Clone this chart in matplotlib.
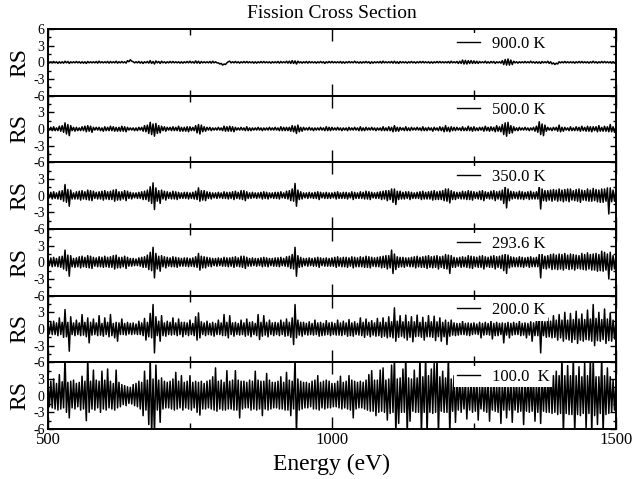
import numpy as np
import matplotlib.pyplot as plt

plt.rcParams['font.family'] = ['Liberation Serif', 'DejaVu Serif']

temps = ['900.0 K', '500.0 K', '350.0 K', '293.6 K', '200.0 K', '100.0  K']

# relative residuals (RS), one value every 2.5 eV from 500 to 1500 eV
rs_900 = [
    0.2, -0.1, 0.1, -0.1, 0.15, -0.1, 0.1, -0.2, 0.1, -0.15, 0.1, -0.15, 0.2, -0.1, 0.15, -0.2, 0.1, -0.1, 0.1, -0.1,
    0.15, -0.1, 0.1, -0.15, 0.1, -0.15, 0.1, -0.2, 0.15, -0.1, 0.1, -0.1, 0.1, -0.1, 0.15, -0.15, 0.2, -0.1, 0.1, -0.1,
    0.1, -0.1, 0.15, -0.15, 0.15, -0.1, 0.1, -0.1, 0.2, -0.15, 0.1, -0.1, 0.15, -0.1, 0.1, -0.15, 0.3, 0.1, 0.45, 0.2,
    0.1, -0.1, 0.1, -0.1, 0.15, -0.15, 0.1, -0.2, 0.1, -0.1, 0.15, -0.15, 0.3, -0.2, 0.15, -0.3, 0.25, -0.1, 0.15, -0.2,
    0.2, -0.1, 0.1, -0.15, 0.1, -0.1, 0.15, -0.1, 0.15, -0.1, 0.1, -0.1, 0.1, -0.15, 0.1, -0.15, 0.1, -0.1, 0.15, -0.1,
    0.2, -0.1, 0.1, -0.15, 0.25, -0.15, 0.2, -0.2, 0.15, -0.1, 0.1, -0.1, 0.1, -0.1, 0.15, -0.15, 0.2, -0.1, 0.1, -0.1,
    -0.1, -0.3, -0.2, -0.5, -0.3, -0.4, -0.1, 0.1, 0.2, -0.1, 0.1, -0.1, 0.15, -0.1, 0.1, -0.15, 0.1, -0.1, 0.15, -0.1,
    0.15, -0.1, 0.1, -0.1, 0.1, -0.15, 0.1, -0.15, 0.1, -0.1, 0.15, -0.1, 0.15, -0.1, 0.1, -0.1, 0.1, -0.15, 0.1, -0.1,
    0.1, -0.1, 0.15, -0.15, 0.15, -0.1, 0.1, -0.1, 0.2, -0.15, 0.2, -0.2, 0.3, -0.2, 0.25, -0.3, 0.2, -0.1, 0.1, -0.15,
    0.1, -0.1, 0.15, -0.15, 0.15, -0.1, 0.1, -0.1, 0.1, -0.15, 0.1, -0.1, 0.15, -0.1, 0.1, -0.2, 0.1, -0.1, 0.15, -0.1,
    0.15, -0.1, 0.1, -0.1, 0.1, -0.1, 0.15, -0.15, 0.1, -0.15, 0.1, -0.1, 0.15, -0.1, 0.1, -0.1, 0.2, -0.1, 0.1, -0.15,
    0.1, -0.15, 0.1, -0.1, 0.15, -0.1, 0.1, -0.2, 0.1, -0.15, 0.1, -0.1, 0.1, -0.1, 0.15, -0.15, 0.2, -0.1, 0.1, -0.1,
    0.1, -0.1, 0.15, -0.15, 0.2, -0.15, 0.1, -0.2, 0.15, -0.1, 0.1, -0.1, 0.1, -0.15, 0.1, -0.1, 0.15, -0.1, 0.1, -0.15,
    0.1, -0.1, 0.15, -0.1, 0.15, -0.1, 0.1, -0.1, 0.1, -0.15, 0.1, -0.15, 0.1, -0.1, 0.15, -0.1, 0.15, -0.1, 0.1, -0.1,
    0.1, -0.1, 0.15, -0.15, 0.2, -0.1, 0.1, -0.1, 0.15, -0.2, 0.2, -0.2, 0.4, -0.3, 0.35, -0.3, 0.3, -0.2, 0.3, -0.2,
    0.25, -0.2, 0.2, -0.2, 0.15, -0.1, 0.1, -0.1, 0.2, -0.15, 0.1, -0.15, 0.15, -0.1, 0.15, -0.2, 0.1, -0.1, 0.1, -0.15,
    0.3, -0.4, 0.5, -0.5, 0.6, -0.5, 0.4, -0.4, 0.2, -0.1, 0.1, -0.15, 0.1, -0.1, 0.1, -0.1, 0.15, -0.1, 0.1, -0.1,
    0.2, -0.1, 0.1, -0.15, 0.1, -0.15, 0.1, -0.2, 0.15, -0.1, 0.1, -0.1, 0.2, -0.2, 0.1, -0.3, -0.1, -0.4, -0.15, -0.3,
    0.1, -0.1, 0.1, -0.1, 0.15, -0.1, 0.1, -0.1, 0.1, -0.1, 0.1, -0.15, 0.1, -0.1, 0.15, -0.1, 0.15, -0.1, 0.1, -0.1,
    0.1, -0.15, 0.1, -0.1, 0.2, -0.1, 0.1, -0.15, 0.1, -0.1, 0.15, -0.1, 0.15, -0.1, 0.1, -0.1, 0.1, -0.15, 0.1, -0.15,
    0.1,
]
rs_500 = [
    0.3, -0.2, 0.3, -0.3, 0.4, -0.3, 0.2, -0.3, 0.5, -0.4, 0.6, -0.6, 1.1, -0.9, 0.8, -1.2, 0.6, -0.3, 0.3, -0.4,
    0.3, -0.3, 0.2, -0.3, 0.4, -0.3, 0.5, -0.5, 0.6, -0.4, 0.5, -0.6, 0.3, -0.2, 0.3, -0.2, 0.3, -0.3, 0.2, -0.4,
    0.4, -0.3, 0.3, -0.3, 0.5, -0.3, 0.4, -0.4, 0.3, -0.4, 0.3, -0.4, 0.5, -0.4, 0.4, -0.5, 0.3, -0.2, 0.2, -0.2,
    0.2, -0.3, 0.2, -0.3, 0.3, -0.2, 0.3, -0.4, 0.6, -0.5, 0.7, -0.8, 1.2, -1.0, 0.9, -1.3, 1.0, -0.8, 0.6, -0.7,
    0.5, -0.3, 0.4, -0.4, 0.3, -0.2, 0.3, -0.3, 0.4, -0.3, 0.3, -0.3, 0.5, -0.4, 0.3, -0.4, 0.3, -0.4, 0.4, -0.5,
    0.4, -0.3, 0.3, -0.3, 0.6, -0.7, 0.8, -0.9, 0.7, -0.5, 0.4, -0.4, 0.3, -0.2, 0.3, -0.3, 0.2, -0.2, 0.2, -0.2,
    0.3, -0.2, 0.2, -0.3, 0.5, -0.4, 0.4, -0.4, 0.5, -0.4, 0.4, -0.5, 0.3, -0.2, 0.2, -0.2, 0.3, -0.2, 0.2, -0.3,
    0.4, -0.3, 0.2, -0.3, 0.2, -0.2, 0.2, -0.2, 0.3, -0.2, 0.2, -0.3, 0.2, -0.2, 0.2, -0.2, 0.3, -0.2, 0.2, -0.2,
    0.3, -0.2, 0.2, -0.3, 0.4, -0.3, 0.3, -0.3, 0.3, -0.3, 0.3, -0.4, 0.6, -0.5, 0.5, -0.8, 0.7, -0.5, 0.3, -0.4,
    0.3, -0.2, 0.2, -0.2, 0.3, -0.2, 0.2, -0.3, 0.2, -0.2, 0.2, -0.2, 0.3, -0.2, 0.2, -0.3, 0.4, -0.3, 0.3, -0.3,
    0.3, -0.2, 0.2, -0.2, 0.3, -0.2, 0.2, -0.3, 0.2, -0.2, 0.2, -0.3, 0.3, -0.2, 0.2, -0.2, 0.3, -0.2, 0.2, -0.3,
    0.4, -0.3, 0.2, -0.3, 0.3, -0.2, 0.2, -0.2, 0.3, -0.2, 0.2, -0.3, 0.2, -0.2, 0.2, -0.3, 0.4, -0.3, 0.2, -0.3,
    0.4, -0.3, 0.3, -0.5, 0.6, -0.4, 0.3, -0.4, 0.3, -0.2, 0.2, -0.3, 0.4, -0.3, 0.2, -0.3, 0.3, -0.2, 0.2, -0.2,
    0.3, -0.2, 0.2, -0.3, 0.4, -0.3, 0.2, -0.3, 0.3, -0.2, 0.2, -0.4, 0.3, -0.2, 0.2, -0.3, 0.4, -0.3, 0.3, -0.5,
    0.6, -0.4, 0.3, -0.5, 0.4, -0.3, 0.3, -0.3, 0.3, -0.2, 0.2, -0.3, 0.4, -0.3, 0.2, -0.3, 0.5, -0.3, 0.3, -0.4,
    0.4, -0.3, 0.2, -0.3, 0.3, -0.2, 0.3, -0.4, 0.5, -0.3, 0.3, -0.4, 0.4, -0.3, 0.3, -0.5, 0.6, -0.4, 0.4, -0.5,
    0.8, -1.0, 1.1, -1.3, 1.2, -0.8, 0.6, -0.7, 0.4, -0.3, 0.2, -0.3, 0.3, -0.2, 0.2, -0.2, 0.3, -0.2, 0.2, -0.3,
    0.2, -0.2, 0.3, -0.4, 0.5, -0.6, 1.3, -1.0, 0.9, -1.2, 0.7, -0.4, 0.3, -0.2, 0.2, -0.3, 0.3, -0.2, 0.3, -0.4,
    0.7, -0.5, 0.3, -0.4, 0.3, -0.2, 0.2, -0.3, 0.4, -0.3, 0.2, -0.3, 0.4, -0.3, 0.3, -0.4, 0.5, -0.3, 0.3, -0.4,
    0.5, -0.4, 0.4, -0.5, 0.4, -0.3, 0.4, -0.5, 0.6, -0.4, 0.3, -0.4, 0.5, -0.4, 0.4, -0.5, 0.8, -0.5, 0.4, -0.6,
    0.4,
]
rs_350 = [
    0.5, -0.4, 0.6, -0.6, 0.7, -0.5, 0.5, -0.6, 0.8, -0.7, 0.9, -1.0, 2.0, -1.2, 1.1, -1.9, 1.0, -0.6, 0.5, -0.6,
    0.7, -0.6, 0.8, -0.8, 0.9, -0.6, 0.7, -0.7, 1.0, -0.8, 0.9, -0.9, 0.8, -0.5, 0.6, -0.6, 0.7, -0.6, 0.8, -0.8,
    0.9, -0.6, 0.7, -0.7, 0.8, -0.7, 1.0, -1.0, 1.1, -0.8, 0.7, -0.8, 0.7, -0.6, 0.9, -0.9, 0.8, -0.5, 0.6, -0.6,
    0.5, -0.4, 0.5, -0.5, 0.6, -0.5, 0.7, -0.7, 0.8, -0.7, 1.0, -1.0, 1.6, -1.4, 2.3, -2.5, 1.4, -1.0, 0.9, -1.4,
    1.0, -0.6, 0.8, -0.8, 0.7, -0.5, 0.6, -0.6, 0.8, -0.6, 0.7, -0.7, 0.6, -0.5, 0.5, -0.5, 0.6, -0.5, 0.6, -0.6,
    0.5, -0.5, 0.6, -0.6, 0.8, -0.7, 1.4, -1.0, 0.9, -0.8, 0.9, -0.9, 0.7, -0.5, 0.6, -0.6, 0.5, -0.4, 0.5, -0.5,
    0.6, -0.4, 0.5, -0.5, 0.7, -0.5, 0.6, -0.6, 0.6, -0.5, 0.7, -0.7, 0.8, -0.5, 0.6, -0.6, 0.9, -0.7, 0.9, -0.9,
    0.7, -0.5, 0.5, -0.5, 0.6, -0.4, 0.5, -0.5, 0.5, -0.4, 0.6, -0.6, 0.7, -0.5, 0.6, -0.6, 0.5, -0.4, 0.5, -0.5,
    0.6, -0.5, 0.6, -0.6, 0.7, -0.4, 0.5, -0.5, 0.8, -0.6, 0.9, -0.9, 1.2, -1.0, 2.2, -1.9, 1.0, -0.7, 0.7, -0.6,
    0.5, -0.4, 0.5, -0.5, 0.6, -0.4, 0.5, -0.5, 0.6, -0.5, 0.7, -0.7, 0.6, -0.4, 0.5, -0.5, 0.6, -0.5, 0.5, -0.5,
    0.5, -0.4, 0.6, -0.6, 0.7, -0.5, 0.5, -0.5, 0.6, -0.5, 0.6, -0.6, 0.5, -0.4, 0.7, -0.7, 0.6, -0.5, 0.5, -0.5,
    0.7, -0.5, 0.6, -0.6, 0.8, -0.6, 0.7, -0.7, 0.6, -0.4, 0.5, -0.5, 0.6, -0.5, 0.7, -0.7, 0.8, -0.6, 0.9, -0.9,
    0.9, -0.7, 1.2, -1.2, 1.2, -1.6, 0.8, -0.7, 0.8, -0.6, 0.6, -0.6, 0.7, -0.5, 0.7, -0.7, 0.6, -0.5, 0.5, -0.5,
    0.6, -0.5, 0.7, -0.7, 0.8, -0.6, 0.6, -0.6, 0.7, -0.6, 0.8, -0.8, 0.9, -0.7, 0.7, -0.7, 0.8, -0.7, 0.9, -0.9,
    1.2, -1.0, 1.2, -1.3, 0.9, -0.7, 0.7, -0.7, 0.6, -0.5, 0.6, -0.6, 0.8, -0.6, 0.7, -0.7, 0.9, -0.7, 0.8, -0.8,
    0.7, -0.5, 0.6, -0.6, 0.8, -0.7, 0.9, -0.9, 0.7, -0.5, 0.6, -0.6, 0.8, -0.6, 0.9, -0.9, 0.7, -0.6, 0.8, -0.8,
    1.0, -1.4, 1.8, -2.2, 1.2, -0.9, 0.8, -0.6, 0.7, -0.5, 0.6, -0.6, 0.8, -0.6, 0.7, -0.7, 0.6, -0.5, 0.7, -0.7,
    0.8, -0.6, 0.6, -0.6, 0.7, -0.6, 1.7, -2.4, 1.2, -0.9, 0.9, -1.0, 0.9, -0.8, 1.0, -1.0, 1.1, -0.8, 1.0, -1.0,
    1.2, -0.9, 1.0, -1.1, 1.1, -0.9, 1.2, -1.1, 1.2, -0.8, 0.9, -0.9, 1.1, -1.0, 1.2, -1.2, 1.0, -0.8, 0.9, -0.9,
    1.2, -1.0, 1.0, -1.0, 1.3, -0.9, 1.1, -1.1, 1.0, -1.2, 1.2, -1.2, 1.2, -1.0, 1.4, -3.3, 1.4, -1.1, 1.0, -1.0,
    1.0,
]
rs_293 = [
    0.7, -0.6, 0.8, -0.8, 0.9, -0.7, 0.7, -0.8, 1.0, -0.9, 1.1, -1.2, 2.2, -1.5, 1.3, -2.5, 1.2, -0.8, 0.7, -0.9,
    0.8, -0.8, 1.0, -1.0, 1.1, -0.8, 0.9, -0.9, 1.2, -1.0, 1.1, -1.1, 0.9, -0.7, 0.8, -0.8, 1.0, -0.8, 0.9, -0.9,
    1.1, -0.8, 0.9, -0.9, 1.0, -0.9, 1.2, -1.2, 1.3, -1.0, 0.9, -1.0, 0.9, -0.8, 1.1, -1.1, 0.9, -0.7, 0.7, -0.7,
    0.7, -0.6, 0.6, -0.6, 0.8, -0.7, 0.9, -0.9, 1.0, -0.9, 1.3, -1.3, 1.8, -1.5, 2.7, -2.8, 1.6, -1.2, 1.1, -1.6,
    1.2, -0.8, 1.0, -1.0, 0.9, -0.7, 0.8, -0.8, 1.0, -0.8, 0.9, -0.9, 0.8, -0.7, 0.7, -0.7, 0.8, -0.7, 0.8, -0.8,
    0.7, -0.7, 0.8, -0.8, 1.0, -0.9, 1.6, -1.4, 1.1, -1.0, 1.0, -1.0, 0.9, -0.7, 0.8, -0.8, 0.7, -0.6, 0.7, -0.7,
    0.8, -0.6, 0.7, -0.7, 0.9, -0.7, 0.8, -0.8, 0.8, -0.7, 0.9, -0.9, 1.0, -0.7, 0.8, -0.8, 1.1, -0.9, 1.1, -1.1,
    0.9, -0.7, 0.7, -0.7, 0.8, -0.6, 0.7, -0.7, 0.7, -0.6, 0.8, -0.8, 0.9, -0.7, 0.8, -0.8, 0.7, -0.6, 0.7, -0.7,
    0.8, -0.7, 0.8, -0.8, 0.9, -0.6, 0.7, -0.7, 1.0, -0.8, 1.1, -1.1, 1.4, -1.2, 2.7, -2.5, 1.2, -0.9, 0.9, -0.8,
    0.7, -0.6, 0.7, -0.7, 0.8, -0.6, 0.7, -0.7, 0.8, -0.7, 0.9, -0.9, 0.8, -0.6, 0.7, -0.7, 0.8, -0.7, 0.7, -0.7,
    0.8, -0.7, 0.9, -0.9, 1.0, -0.7, 0.8, -0.8, 0.9, -0.8, 0.9, -0.9, 0.8, -0.7, 1.0, -1.0, 0.9, -0.8, 0.8, -0.8,
    1.0, -0.8, 0.9, -0.9, 1.1, -0.9, 1.0, -1.0, 0.9, -0.7, 0.8, -0.8, 0.9, -0.8, 1.0, -1.0, 1.1, -0.9, 1.2, -1.2,
    1.2, -1.0, 2.2, -2.0, 1.5, -1.3, 1.0, -0.9, 0.9, -0.8, 0.9, -0.9, 0.8, -0.7, 0.8, -0.8, 0.9, -0.8, 1.0, -1.0,
    1.1, -0.8, 0.9, -0.9, 1.0, -0.9, 1.1, -1.1, 1.2, -0.9, 1.0, -1.0, 1.1, -0.9, 1.2, -1.2, 1.0, -0.9, 1.1, -1.1,
    1.4, -1.2, 1.3, -2.0, 1.2, -0.9, 0.9, -0.9, 0.8, -0.7, 0.9, -0.9, 1.0, -0.8, 0.9, -0.9, 1.2, -1.0, 1.1, -1.1,
    1.0, -0.8, 0.9, -0.9, 1.1, -0.9, 1.2, -1.2, 1.0, -0.8, 0.9, -0.9, 1.1, -0.9, 1.2, -1.2, 1.0, -0.9, 1.1, -1.1,
    1.3, -1.5, 1.6, -2.0, 1.3, -1.0, 1.0, -0.8, 0.9, -0.8, 0.8, -0.8, 1.0, -0.8, 0.9, -0.9, 0.8, -0.7, 0.9, -0.9,
    1.0, -0.8, 0.8, -0.8, 0.9, -0.8, 1.4, -2.8, 1.5, -1.1, 1.1, -1.2, 1.2, -1.0, 1.4, -1.3, 1.5, -1.2, 1.3, -1.3,
    1.5, -1.2, 1.4, -1.4, 1.6, -1.1, 1.3, -1.3, 1.5, -1.2, 1.4, -1.4, 1.3, -1.1, 1.2, -1.2, 1.6, -1.3, 1.4, -1.4,
    1.7, -1.2, 1.4, -1.4, 1.5, -1.4, 1.6, -1.6, 1.4, -1.5, 2.0, -1.6, 1.8, -1.4, 1.5, -3.0, 1.8, -1.4, 1.2, -1.2,
    1.2,
]
rs_200 = [
    1.0, -0.9, 1.2, -1.0, 1.4, -1.0, 1.1, -1.2, 2.0, -1.0, 1.2, -1.5, 3.5, -1.4, 1.2, -4.0, 2.2, -1.0, 1.1, -1.2,
    1.6, -1.0, 1.1, -1.2, 2.6, -1.1, 1.2, -1.4, 2.0, -2.5, 1.2, -1.1, 1.8, -1.0, 1.1, -1.2, 2.4, -1.1, 1.0, -1.3,
    2.0, -1.0, 1.2, -1.4, 2.6, -1.2, 1.0, -1.6, 1.2, -2.2, 1.1, -1.0, 1.8, -1.0, 1.0, -1.1, 1.2, -0.9, 1.0, -1.0,
    1.1, -0.9, 0.9, -1.0, 1.4, -1.0, 1.1, -1.2, 1.9, -2.0, 1.2, -1.4, 2.8, -1.6, 4.4, -4.3, 2.2, -1.2, 1.4, -2.2,
    2.4, -1.2, 1.1, -1.3, 1.4, -1.0, 1.2, -1.1, 2.0, -1.0, 1.1, -1.2, 1.8, -1.0, 1.2, -1.4, 1.2, -1.0, 1.1, -1.2,
    1.6, -1.0, 1.0, -1.2, 2.2, -2.0, 2.9, -1.6, 1.3, -1.0, 1.1, -1.2, 1.4, -1.0, 1.0, -1.1, 1.2, -1.3, 1.0, -1.0,
    1.6, -1.0, 1.1, -1.2, 2.6, -1.2, 1.2, -1.6, 2.4, -1.0, 1.1, -1.3, 1.2, -1.0, 1.0, -1.1, 1.6, -1.0, 1.1, -1.3,
    1.8, -1.1, 1.2, -1.4, 1.3, -1.0, 1.0, -1.2, 2.6, -1.9, 1.2, -1.3, 2.4, -1.1, 1.2, -1.4, 1.6, -1.0, 1.1, -1.2,
    1.2, -1.0, 1.1, -1.2, 1.6, -1.0, 1.2, -1.3, 1.8, -1.2, 1.2, -1.5, 2.0, -2.8, 4.4, -1.6, 1.6, -1.1, 1.2, -1.3,
    1.2, -1.0, 1.0, -1.1, 1.3, -1.0, 1.0, -1.1, 1.6, -1.0, 1.1, -1.3, 1.2, -1.2, 1.0, -1.1, 1.5, -1.0, 1.1, -1.2,
    1.2, -1.0, 1.0, -1.1, 1.6, -1.1, 1.1, -1.2, 1.4, -1.0, 1.1, -1.3, 1.7, -1.2, 1.1, -1.3, 1.3, -1.0, 1.0, -1.1,
    2.0, -1.2, 1.2, -1.5, 1.8, -1.1, 1.2, -1.4, 1.5, -1.1, 1.1, -1.3, 1.9, -1.2, 1.2, -1.5, 2.0, -1.3, 1.2, -1.6,
    2.2, -1.4, 1.3, -1.6, 3.8, -2.2, 1.4, -1.5, 2.4, -1.3, 1.3, -1.6, 2.5, -2.0, 1.3, -1.5, 2.2, -2.3, 1.3, -1.4,
    2.5, -1.3, 1.2, -1.5, 2.1, -2.0, 1.2, -1.4, 2.4, -1.4, 1.3, -1.5, 2.3, -2.1, 1.3, -1.4, 2.0, -2.2, 1.2, -1.4,
    1.6, -2.8, 1.2, -1.3, 1.6, -1.1, 1.1, -1.2, 1.0, -1.1, 1.0, -1.0, 1.4, -1.0, 1.0, -1.1, 1.1, -1.2, 1.0, -1.0,
    1.1, -0.9, 0.9, -1.0, 1.2, -1.6, 1.0, -1.1, 1.2, -1.0, 1.0, -1.1, 1.4, -1.8, 1.0, -1.2, 1.2, -1.2, 1.0, -1.0,
    1.1, -2.5, 1.0, -1.1, 1.2, -1.6, 1.0, -1.1, 1.2, -1.0, 1.0, -1.0, 1.4, -1.2, 1.0, -1.1, 1.1, -1.6, 1.0, -1.1,
    1.3, -2.2, 1.1, -1.2, 1.5, -1.2, 2.5, -4.3, 1.8, -1.2, 1.3, -1.5, 2.0, -1.4, 1.4, -1.6, 2.4, -1.5, 1.6, -2.0,
    2.6, -1.6, 1.6, -2.2, 3.0, -1.8, 1.6, -2.0, 2.8, -2.4, 1.7, -1.9, 3.2, -2.6, 1.8, -2.0, 2.7, -2.2, 1.7, -1.9,
    3.4, -2.0, 1.8, -2.2, 4.4, -3.0, 1.9, -2.1, 3.0, -2.2, 1.7, -1.9, 3.6, -2.6, 1.8, -2.1, 2.9, -2.2, 1.6, -1.8,
    1.6,
]
rs_100 = [
    2.4, -2.0, 2.6, -2.2, 3.0, -2.4, 2.2, -2.6, 3.8, -2.4, 2.5, -2.2, 7.0, -3.0, 2.4, -4.0, 2.6, -2.2, 2.8, -2.4,
    2.2, -2.0, 2.4, -2.6, 3.5, -2.4, 2.6, -4.5, 7.0, -3.0, 2.6, -2.4, 4.6, -2.6, 2.8, -2.2, 2.6, -3.0, 4.4, -2.4,
    2.8, -2.6, 4.8, -2.2, 2.6, -2.4, 2.2, -2.6, 4.6, -2.2, 2.4, -2.0, 2.0, -1.6, 1.8, -1.8, 1.6, -1.4, 1.5, -1.5,
    2.0, -1.8, 2.2, -2.0, 2.6, -2.4, 2.4, -3.6, 4.4, -2.6, 2.8, -5.2, 7.0, -7.0, 3.0, -7.0, 5.5, -2.6, 2.8, -4.8,
    3.2, -2.4, 2.6, -2.2, 2.4, -2.2, 2.6, -2.4, 3.0, -2.6, 4.2, -2.4, 2.6, -2.2, 3.6, -2.6, 2.4, -2.2, 2.6, -2.4,
    3.6, -2.6, 2.4, -2.2, 2.6, -3.0, 2.4, -3.5, 2.6, -2.4, 2.2, -2.4, 2.6, -2.2, 2.8, -2.4, 3.4, -2.6, 5.0, -2.8,
    2.6, -2.4, 2.8, -2.6, 2.4, -2.6, 4.5, -2.4, 2.6, -2.4, 2.8, -2.6, 4.5, -2.6, 2.8, -4.0, 2.6, -2.4, 2.6, -2.2,
    2.4, -2.2, 2.8, -2.6, 2.6, -2.4, 4.4, -2.6, 2.8, -2.4, 2.6, -3.6, 2.6, -2.4, 4.0, -2.6, 2.8, -2.4, 2.4, -2.2,
    2.4, -2.2, 2.6, -2.4, 3.4, -2.4, 2.4, -2.6, 4.2, -2.6, 2.8, -3.6, 2.6, -2.4, 7.0, -7.0, 3.0, -2.6, 2.6, -2.4,
    2.4, -2.2, 2.4, -2.2, 2.2, -2.0, 2.6, -2.4, 2.8, -2.4, 3.6, -2.6, 2.4, -2.2, 2.6, -2.4, 2.8, -2.2, 2.6, -2.2,
    2.2, -2.0, 2.2, -2.0, 2.6, -2.2, 3.5, -2.4, 2.4, -2.2, 2.6, -2.4, 3.6, -2.6, 2.8, -4.0, 2.6, -2.4, 2.4, -2.2,
    2.6, -2.2, 2.4, -2.4, 2.8, -2.6, 3.8, -2.8, 4.5, -2.8, 2.8, -3.6, 2.8, -3.0, 4.6, -2.8, 5.0, -3.0, 2.8, -4.4,
    3.0, -3.2, 5.5, -3.0, 7.0, -7.0, 3.0, -5.0, 3.2, -3.0, 4.8, -3.0, 7.0, -7.0, 3.2, -4.6, 3.0, -2.8, 4.6, -3.0,
    3.2, -3.0, 7.0, -7.0, 3.4, -3.0, 7.0, -7.0, 3.6, -3.0, 4.8, -3.2, 5.8, -3.0, 7.0, -7.0, 3.4, -2.8, 4.4, -3.0,
    3.2, -3.0, 7.0, -7.0, 3.0, -2.8, 3.6, -4.8, 2.6, -2.6, 3.0, -3.0, 2.0, -2.4, 3.0, -4.2, 1.8, -2.6, 3.0, -3.0,
    2.0, -2.8, 3.2, -4.4, 1.6, -2.4, 2.8, -2.8, 2.2, -3.0, 3.0, -4.6, 1.8, -2.6, 2.8, -2.8, 2.0, -3.0, 3.0, -5.0,
    2.2, -2.6, 3.0, -4.0, 1.8, -2.6, 3.0, -4.8, 2.4, -2.6, 2.8, -3.0, 2.0, -2.8, 3.0, -5.2, 2.6, -2.8, 3.0, -3.0,
    3.0, -2.8, 3.0, -4.6, 2.4, -3.0, 3.0, -5.0, 3.2, -2.8, 3.0, -3.0, 2.8, -3.0, 5.2, -3.2, 3.6, -3.0, 4.4, -3.4,
    3.6, -3.2, 7.0, -7.0, 3.6, -3.2, 5.4, -3.4, 3.6, -3.4, 7.0, -7.0, 3.6, -3.4, 5.2, -3.6, 3.4, -3.2, 6.0, -6.0,
    3.6, -3.2, 7.0, -7.0, 7.0, -3.6, 3.4, -5.2, 3.4, -3.2, 7.0, -7.0, 3.6, -3.4, 5.0, -3.2, 3.4, -3.0, 2.8, -2.6,
    2.4,
]

series = [rs_900, rs_500, rs_350, rs_293, rs_200, rs_100]

fig = plt.figure(figsize=(6.33, 4.79), dpi=100)
axes = fig.subplots(6, 1, sharex=True, gridspec_kw=dict(hspace=0))
fig.subplots_adjust(left=0.0758, right=0.973, bottom=0.1044, top=0.9395)

for i, (ax, vals, lab) in enumerate(zip(axes, series, temps)):
    energy = np.linspace(500, 1500, len(vals))
    ax.plot(energy, vals, color='black', lw=1.1, label=lab)
    ax.set_xlim(500, 1500)
    ax.set_ylim(-6, 6)

    ax.set_yticks([-6, -3, 0, 3, 6])
    ax.set_yticks([-4.5, -1.5, 1.5, 4.5], minor=True)
    ylabels = ['-6', '-3', '0', '3', '6'] if i == 0 else ['-6', '-3', '0', '3', '']
    ax.set_yticklabels(ylabels)
    ax.set_xticks([500, 1000, 1500])
    ax.set_xticks([750, 1250], minor=True)

    ax.tick_params(which='both', direction='in', top=True, right=True, width=1.0)
    ax.tick_params(axis='y', which='major', length=4.5, labelsize=10, pad=2.5)
    ax.tick_params(axis='y', which='minor', length=2.5)
    ax.tick_params(axis='x', which='major', length=8.5, labelsize=12, pad=2)
    ax.tick_params(axis='x', which='minor', length=4.5)
    for sp in ax.spines.values():
        sp.set_linewidth(1.4)
        sp.set_zorder(5)

    ax.set_ylabel('RS', fontsize=17)
    ax.yaxis.set_label_coords(-0.031, 0.5)

    leg = ax.legend(loc='center left', bbox_to_anchor=(0.715, 0.78), fontsize=12,
                    frameon=True, borderpad=0.15, borderaxespad=0,
                    handlelength=1.4, handletextpad=0.7)
    leg.get_frame().set_facecolor('white')
    leg.get_frame().set_edgecolor('none')
    leg.get_frame().set_alpha(1.0)
    leg.get_frame().set_boxstyle('square', pad=0)
    for h in leg.get_lines():
        h.set_linewidth(1.0)

axes[0].set_title('Fission Cross Section', fontsize=14, pad=8)
axes[-1].set_xlabel('Energy (eV)', fontsize=17, labelpad=4)

fig.savefig('out.png', dpi=100)
